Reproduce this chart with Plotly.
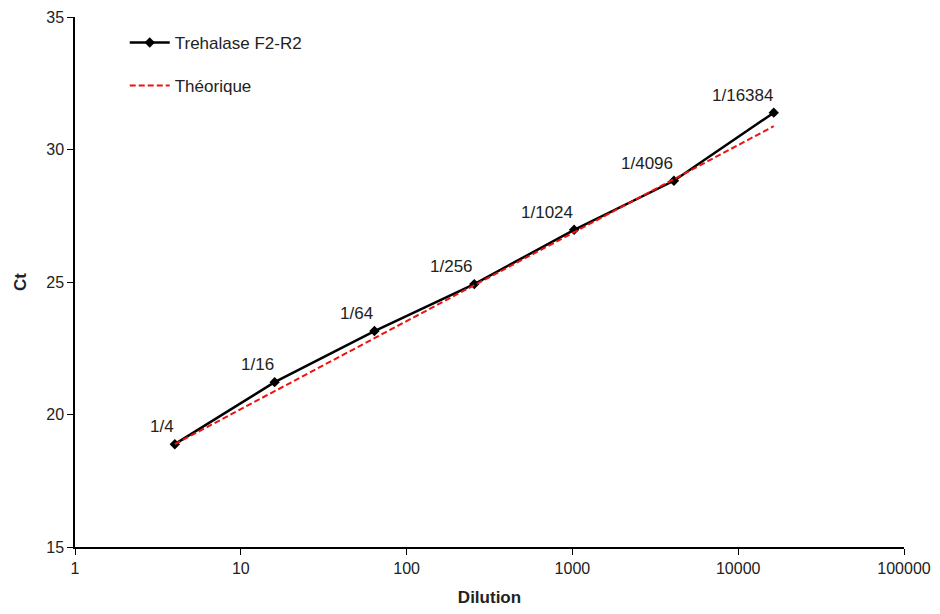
import math
import plotly.graph_objects as go

# Serial dilution series (fold dilution) and measured Ct values
dilutions = [4, 16, 64, 256, 1024, 4096, 16384]
dilution_labels = ["1/4", "1/16", "1/64", "1/256", "1/1024", "1/4096", "1/16384"]
ct_measured = [18.88, 21.22, 23.15, 24.92, 26.97, 28.82, 31.39]
ct_theoretical = [18.88, 20.88, 22.88, 24.88, 26.88, 28.88, 30.88]

x_tick_vals = [1, 10, 100, 1000, 10000, 100000]
x_tick_text = ["1", "10", "100", "1000", "10000", "100000"]
y_tick_vals = [15, 20, 25, 30, 35]

FONT = "Liberation Sans, Arial, sans-serif"
TEXT = "#222222"

fig = go.Figure()

fig.add_trace(go.Scatter(
    x=dilutions, y=ct_measured, mode="lines+markers",
    name="Trehalase F2-R2", legendgroup="a",
    line=dict(color="black", width=2.5),
    marker=dict(symbol="diamond", size=8, color="black"),
))

fig.add_trace(go.Scatter(
    x=dilutions, y=ct_theoretical, mode="lines",
    name="Théorique", legendgroup="b",
    line=dict(color="#ee1111", width=2, dash="6px,3px"),
))

# Dilution labels just above and left of each point (log axis -> log10 coords)
for d, c, lab in zip(dilutions, ct_measured, dilution_labels):
    fig.add_annotation(
        x=math.log10(d), y=c, xref="x", yref="y", text=lab, showarrow=False,
        xanchor="right", yanchor="bottom", xshift=1, yshift=6,
        font=dict(family=FONT, size=17, color=TEXT),
    )

fig.update_xaxes(
    type="log", range=[0, 5], automargin=False,
    tickvals=x_tick_vals, ticktext=x_tick_text,
    showgrid=False, zeroline=False,
    showline=True, linecolor="black", linewidth=1.5,
    ticks="outside", ticklen=6, tickcolor="black",
    tickfont=dict(family=FONT, size=16, color=TEXT),
    title=dict(text="<b>Dilution</b>", font=dict(family=FONT, size=17, color=TEXT)),
)
fig.update_yaxes(
    range=[15, 35], tickvals=y_tick_vals, automargin=False,
    showgrid=False, zeroline=False,
    showline=True, linecolor="black", linewidth=1.5,
    ticks="outside", ticklen=6, tickcolor="black",
    tickfont=dict(family=FONT, size=16, color=TEXT),
    title=dict(text="<b>Ct</b>", font=dict(family=FONT, size=17, color=TEXT)),
)

fig.update_layout(
    width=940, height=614,
    margin=dict(l=75, r=36, t=17, b=67),
    paper_bgcolor="white", plot_bgcolor="white",
    showlegend=True,
    legend=dict(
        x=0.06, y=0.985, xanchor="left", yanchor="top",
        font=dict(family=FONT, size=17, color=TEXT),
        tracegroupgap=18, itemwidth=40,
        bgcolor="rgba(0,0,0,0)",
    ),
)

fig.write_html("out.html")
